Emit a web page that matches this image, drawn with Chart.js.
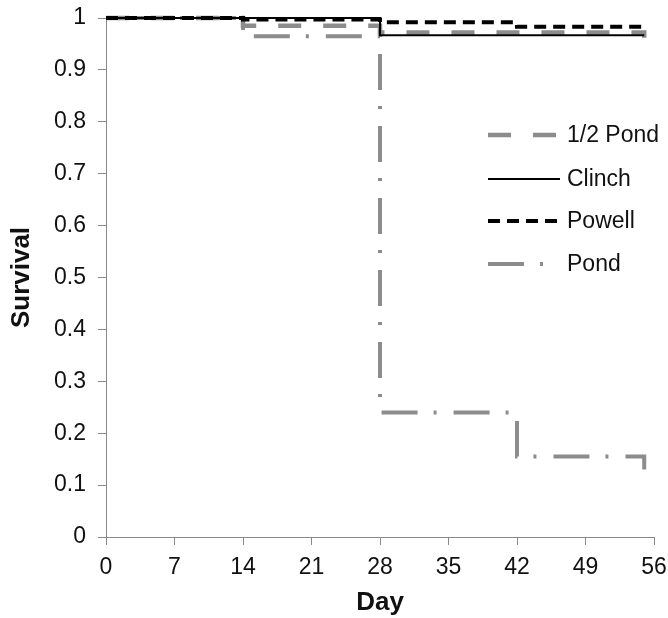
<!DOCTYPE html>
<html>
<head>
<meta charset="utf-8">
<script src="https://cdn.jsdelivr.net/npm/chart.js@4/dist/chart.umd.min.js"></script>
<style>
  html, body { margin: 0; padding: 0; background: #fff; }
  #wrap { width: 668px; height: 618px; }
</style>
</head>
<body>
<div id="wrap"><canvas id="c" width="668" height="618"></canvas></div>
<script>
// Survival by sampling day for each water treatment (step curves)
const seriesNames = ['1/2 Pond', 'Clinch', 'Powell', 'Pond'];

const halfPondDays = [0, 14, 28, 55];
const halfPondSurvival = [1, 0.985, 0.972, 0.962];

const clinchDays = [0, 28, 55];
const clinchSurvival = [1, 0.967, 0.967];

const powellDays = [0, 14, 28, 42, 55];
const powellSurvival = [1, 0.997, 0.992, 0.983, 0.983];

const pondDays = [0, 14, 28, 42, 55];
const pondSurvival = [1, 0.965, 0.24, 0.155, 0.13];

const dayTicks = [0, 7, 14, 21, 28, 35, 42, 49, 56];
const survivalTicks = [0, 0.1, 0.2, 0.3, 0.4, 0.5, 0.6, 0.7, 0.8, 0.9, 1];

const GRAY = '#8c8c8c';
const AXIS = '#888888';
const FONT = "'Liberation Sans', Arial, sans-serif";

function points(days, vals) {
  return days.map((d, i) => ({ x: d, y: vals[i] }));
}

const styles = [
  { color: GRAY,   width: 4.5, dash: [23, 22],         offset: 0 },   // 1/2 Pond
  { color: '#000', width: 2,   dash: [],               offset: 0 },   // Clinch
  { color: '#000', width: 4,   dash: [12, 7],          offset: 0 },   // Powell
  { color: GRAY,   width: 4,   dash: [36, 16, 3, 17],  offset: 50 }   // Pond
];
const seriesData = [
  points(halfPondDays, halfPondSurvival),
  points(clinchDays, clinchSurvival),
  points(powellDays, powellSurvival),
  points(pondDays, pondSurvival)
];
const drawOrder = [3, 1, 0, 2];

const datasets = seriesNames.map((name, i) => ({
  label: name,
  data: seriesData[i],
  stepped: 'before',
  borderColor: styles[i].color,
  borderWidth: styles[i].width,
  borderDash: styles[i].dash,
  borderDashOffset: styles[i].offset,
  borderCapStyle: 'butt',
  pointRadius: 0,
  fill: false,
  clip: 6,
  order: drawOrder[i]
}));

// Line-sample legend placed inside the plot area
const sampleLegend = {
  id: 'sampleLegend',
  afterDraw(chart) {
    const ctx = chart.ctx;
    const rows = [135, 179, 221, 264];
    ctx.save();
    ctx.font = '23px ' + FONT;
    ctx.textBaseline = 'middle';
    ctx.fillStyle = '#111';
    chart.data.datasets.forEach((ds, i) => {
      const y = rows[i];
      ctx.beginPath();
      ctx.setLineDash(ds.borderDash || []);
      ctx.lineWidth = ds.borderWidth;
      ctx.strokeStyle = ds.borderColor;
      ctx.lineCap = 'butt';
      ctx.moveTo(488, y);
      ctx.lineTo(560, y);
      ctx.stroke();
      ctx.setLineDash([]);
      ctx.fillText(ds.label, 567, y + 1);
    });
    ctx.restore();
  }
};

new Chart(document.getElementById('c'), {
  type: 'line',
  data: { datasets },
  plugins: [sampleLegend],
  options: {
    responsive: false,
    devicePixelRatio: 1,
    animation: false,
    layout: { padding: { top: 18, right: 14, bottom: 0, left: 0 } },
    plugins: { legend: { display: false }, tooltip: { enabled: false } },
    scales: {
      x: {
        type: 'linear',
        min: 0,
        max: 56,
        afterBuildTicks: s => { s.ticks = dayTicks.map(v => ({ value: v })); },
        afterFit: s => { s.height = 81; s.paddingLeft = 0; s.paddingRight = 0; },
        grid: { display: true, drawOnChartArea: false, drawTicks: true, tickLength: 8, color: AXIS },
        border: { display: true, color: AXIS, width: 1 },
        ticks: { font: { family: FONT, size: 23 }, color: '#111', padding: 9, maxRotation: 0 },
        title: { display: true, text: 'Day', font: { family: FONT, size: 26, weight: 'bold', lineHeight: 1 }, color: '#111', padding: { top: 0, bottom: 2 } }
      },
      y: {
        min: 0,
        max: 1,
        afterBuildTicks: s => { s.ticks = survivalTicks.map(v => ({ value: v })); },
        afterFit: s => { s.width = 106; s.paddingTop = 0; s.paddingBottom = 0; },
        grid: { display: true, drawOnChartArea: false, drawTicks: true, tickLength: 8, color: AXIS },
        border: { display: true, color: AXIS, width: 1 },
        ticks: { font: { family: FONT, size: 23 }, color: '#111', padding: 12, callback: v => String(Math.round(v * 10) / 10) },
        title: { display: true, text: 'Survival', font: { family: FONT, size: 26, weight: 'bold', lineHeight: 1 }, color: '#111', padding: { top: 9, bottom: 0 } }
      }
    }
  }
});
</script>
</body>
</html>
